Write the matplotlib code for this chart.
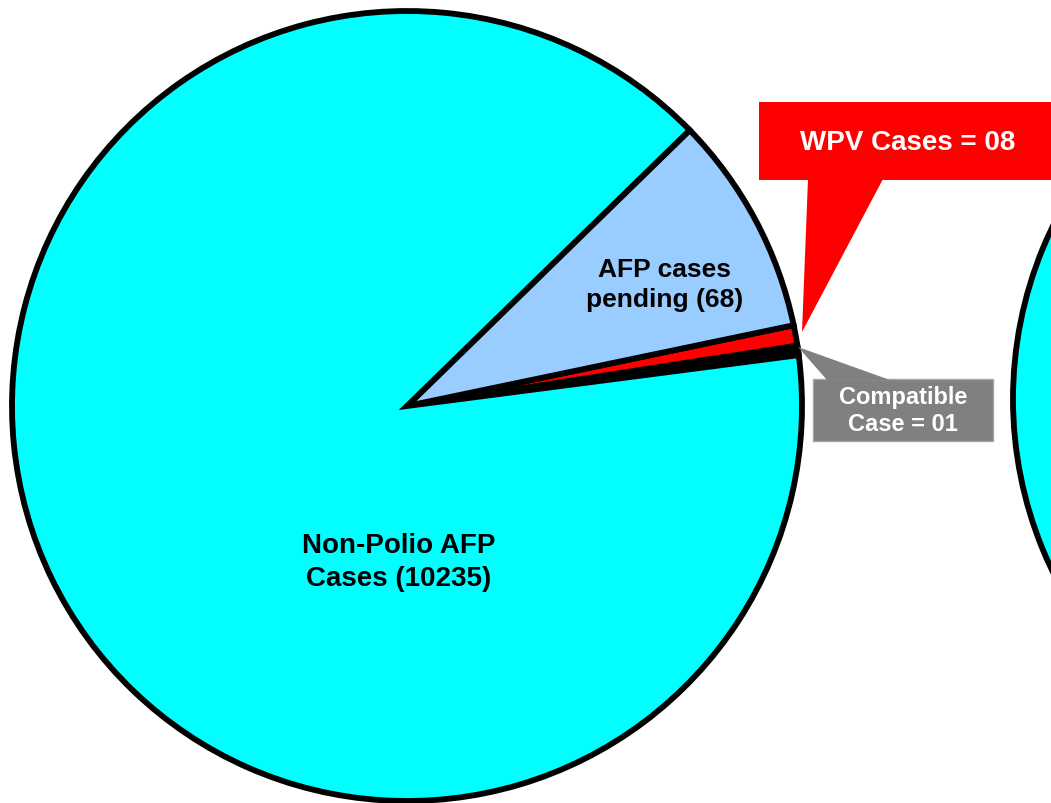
import matplotlib.pyplot as plt
from matplotlib.patches import Polygon, Rectangle

# case counts shown in the labels
categories = ["Compatible", "WPV", "AFP pending", "Non-Polio AFP"]
case_counts = [1, 8, 68, 10235]
# slice widths as drawn in the picture (degrees; the original is not to scale)
slice_degrees = [1.4, 3.0, 32.5, 323.1]
slice_colors = ["#000000", "#FF0000", "#99CCFF", "#00FFFF"]

W, H = 1051, 804
fig = plt.figure(figsize=(W / 100, H / 100), dpi=100)
ax = fig.add_axes([0, 0, 1, 1])

# main pie
ax.pie(slice_degrees, colors=slice_colors, startangle=7.4, counterclock=True,
       center=(407, 397), radius=395,
       wedgeprops=dict(edgecolor="black", linewidth=4.2, joinstyle="miter"))

# second pie, mostly off the right edge
ax.pie([1], colors=["#00FFFF"], center=(1408, 404), radius=395,
       wedgeprops=dict(edgecolor="black", linewidth=4.2))

ax.set_xlim(0, W)
ax.set_ylim(0, H)
ax.set_aspect("equal")
ax.axis("off")

font = dict(family=["Liberation Sans", "DejaVu Sans"], fontweight="bold",
            ha="center", va="center")

ax.text(665, 519, f"AFP cases\npending ({case_counts[2]})", fontsize=19,
        color="black", linespacing=1.35, **font)
ax.text(399, 241, f"Non-Polio AFP\nCases ({case_counts[3]})", fontsize=20,
        color="black", linespacing=1.35, **font)

# WPV callout
ax.add_patch(Rectangle((759, 623), 320, 78, facecolor="#FF0000",
                       edgecolor="none", zorder=5))
ax.add_patch(Polygon([(808, 624), (883, 624), (802, 471)], closed=True,
                     facecolor="#FF0000", edgecolor="none", zorder=5))
ax.text(908, 661, f"WPV Cases = {case_counts[1]:02d}", fontsize=20,
        color="white", zorder=6, **font)

# compatible callout
ax.add_patch(Rectangle((813, 362), 180, 62, facecolor="#808080",
                       edgecolor="#A6A6A6", linewidth=1, zorder=5))
ax.add_patch(Polygon([(827, 423), (890, 423), (798, 456)], closed=True,
                     facecolor="#808080", edgecolor="none", zorder=5))
ax.text(903, 393, f"Compatible\nCase = {case_counts[0]:02d}", fontsize=17,
        color="white", linespacing=1.25, zorder=6, **font)

fig.savefig("out.png", dpi=100)
